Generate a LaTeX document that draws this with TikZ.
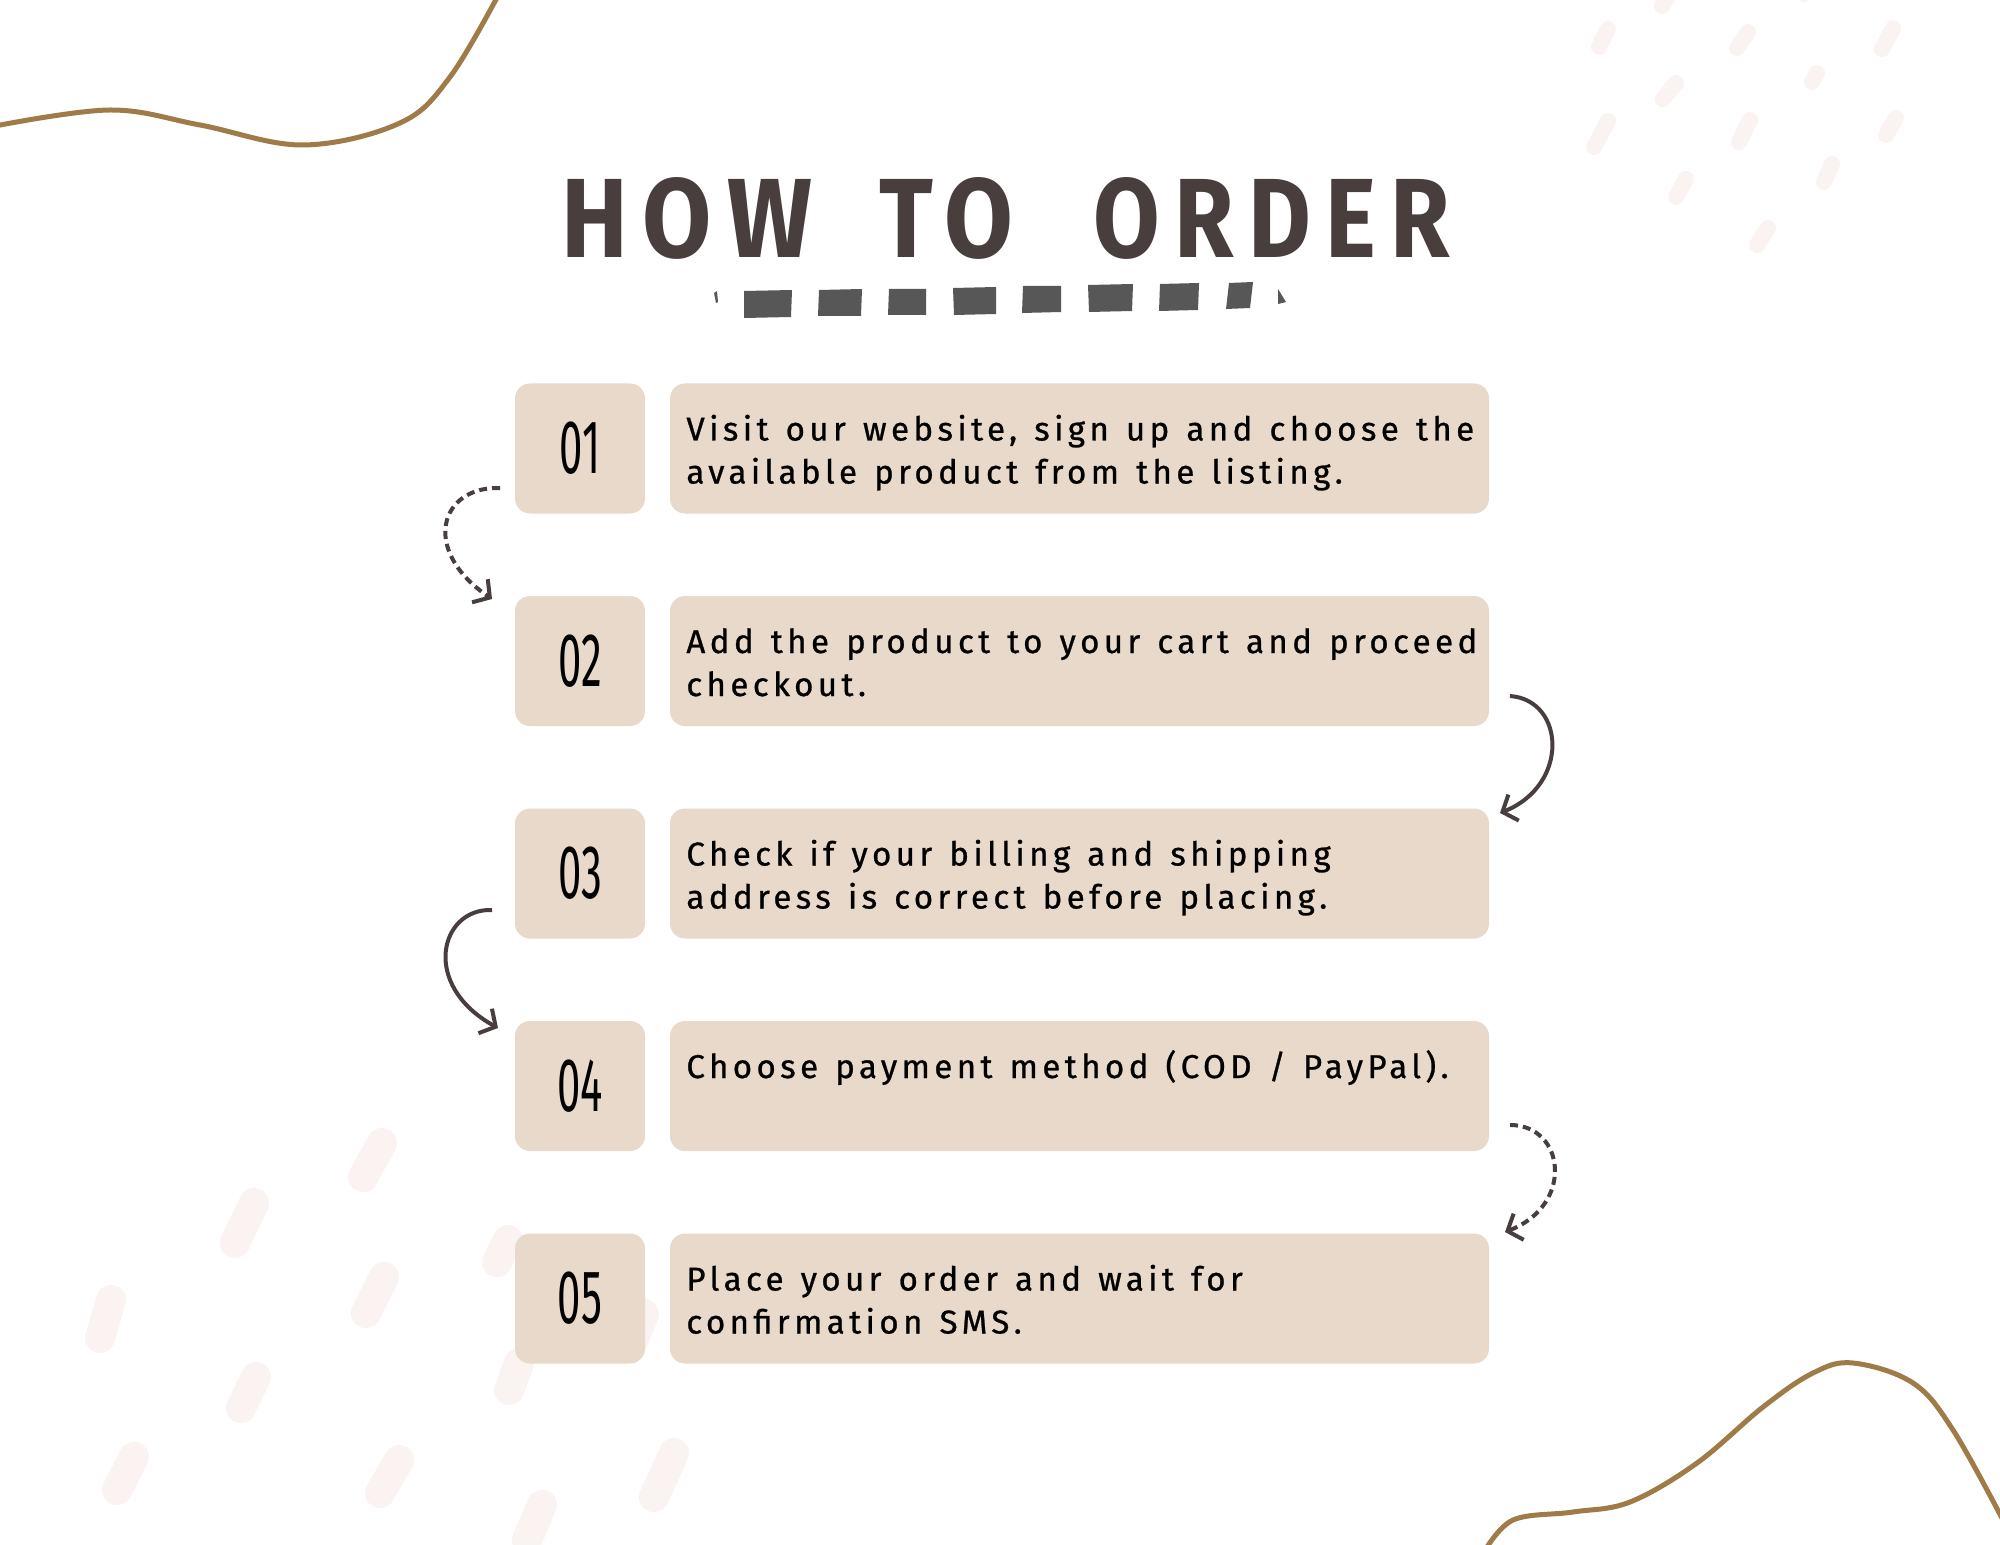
\documentclass[tikz,border=0pt]{standalone}
\usepackage{fontspec}
\usepackage{graphicx}
\setmainfont{Fira Sans}
\newfontfamily\stepfont[LetterSpace=13.5,WordSpace=1.3,FakeBold=0.8]{Fira Sans}
\newfontfamily\titlefont[LetterSpace=15]{Fira Sans}
\newcommand\numfont{\fontsize{38pt}{40pt}\selectfont}
\newcommand\twolines[2]{\vtop{\baselineskip=21.5pt\hbox{#1}\hbox{#2}}}
\usetikzlibrary{arrows.meta}
\definecolor{boxc}{HTML}{E8D9CB}
\definecolor{arrowc}{HTML}{483E3E}
\definecolor{titlec}{HTML}{483E3E}
\definecolor{wavec}{HTML}{9E7B47}
\definecolor{speckc}{HTML}{FAF3F2}
\definecolor{ulinec}{HTML}{575757}
\begin{document}
\begin{tikzpicture}[x=0.5pt,y=-0.5pt,
  numbox/.style={fill=boxc,rounded corners=7.5pt,minimum width=65pt,minimum height=65pt,inner sep=0pt,text=black,font=\numfont},
  textbox/.style={fill=boxc,rounded corners=7.5pt,minimum width=409.5pt,minimum height=65pt,inner sep=0pt},
  steptext/.style={anchor=base west,inner sep=0pt,text=black,font=\stepfont\fontsize{16.5pt}{21.5pt}\selectfont},
  titletext/.style={anchor=base,inner sep=0pt,text=titlec,font=\titlefont\bfseries\fontsize{58pt}{60pt}\selectfont},
  conn/.style={draw=arrowc,line width=2pt,-{Straight Barb[length=6pt,width=14pt,line width=2pt]}},
  dconn/.style={conn,dash pattern=on 4pt off 2.5pt},
  speck/.style={draw=speckc,line cap=round,line width=8pt},
  bigspeck/.style={draw=speckc,line cap=round,line width=15pt},
  wave/.style={draw=wavec,line width=2.5pt},
  uline/.style={fill=ulinec,draw=none}]
\useasboundingbox (0,0) rectangle (2000,1545);
\clip (0,0) rectangle (2000,1545);
\fill[white] (0,0) rectangle (2000,1545);

% background specks, top right
\foreach \a/\b/\c/\d in {1599/47/1608/29, 1737/48/1748/32, 1882/49/1893/28, 1812/82/1817/73,
  1663/99/1676/83, 1594/147/1608/121, 1739/142/1750/120, 1886/135/1896/118,
  1824/182/1832/164, 1676/197/1686/179, 1757/245/1768/228, 1662/6/1672/-10, 1804/-6/1812/-20}
  \draw[speck] (\a,\b) -- (\c,\d);
% background specks, bottom left
\foreach \a/\b/\c/\d in {363/1177/382/1143, 235/1243/254/1203, 100/1338/111/1300,
  366/1313/384/1277, 497/1262/508/1240, 241/1408/256/1377, 509/1390/519/1363,
  117/1490/134/1457, 380/1493/399/1460, 654/1497/674/1453, 527/1540/542/1505, 630/1348/644/1314}
  \draw[bigspeck] (\a,\b) -- (\c,\d);

% corner waves
\draw[wave] plot[smooth,tension=0.6] coordinates {(-5,126) (110,110) (200,125) (303,145) (400,123) (450,77) (500,-8)};
\draw[wave] plot[smooth,tension=0.6] coordinates {(1484,1552) (1513,1520) (1573,1512) (1630,1502) (1697,1463) (1763,1407) (1813,1373) (1853,1363) (1913,1383) (1953,1430) (2004,1522)};

% title
\node[titletext] (w1) at (686.5,258) {\resizebox{125.5pt}{40pt}{HOW}};
\node[titletext] (w2) at (946,258) {\resizebox{67pt}{40pt}{TO}};
\node[titletext] (w3) at (1271.5,258) {\resizebox{178.5pt}{40pt}{ORDER}};

% title underline dashes
\fill[uline] (714,293) -- (717,291) -- (718,302) -- (716,303) -- cycle;
\fill[uline] (744,291) -- (792,290) -- (791,317) -- (744,318) -- cycle;
\fill[uline] (819,290) -- (862,289) -- (861,316) -- (818,316) -- cycle;
\fill[uline] (889,289) -- (926,289) -- (926,315) -- (888,315) -- cycle;
\fill[uline] (953,288) -- (996,287) -- (996,314) -- (954,315) -- cycle;
\fill[uline] (1023,286) -- (1061,286) -- (1061,312) -- (1022,313) -- cycle;
\fill[uline] (1088,285) -- (1133,284) -- (1132,311) -- (1089,312) -- cycle;
\fill[uline] (1160,284) -- (1199,283) -- (1198,310) -- (1159,311) -- cycle;
\fill[uline] (1229,283) -- (1253,282) -- (1250,308) -- (1226,309) -- cycle;
\fill[uline] (1278,289) -- (1286,302) -- (1278,304) -- cycle;

% step boxes
\node[numbox] (n1) at (580,448.5) {\scalebox{0.55}[1]{01}};
\node[numbox] (n2) at (580,661) {\scalebox{0.55}[1]{02}};
\node[numbox] (n3) at (580,873.5) {\scalebox{0.55}[1]{03}};
\node[numbox] (n4) at (580,1086) {\scalebox{0.55}[1]{04}};
\node[numbox] (n5) at (580,1298.5) {\scalebox{0.55}[1]{05}};
\node[textbox] (t1) at (1079.5,448.5) {};
\node[textbox] (t2) at (1079.5,661) {};
\node[textbox] (t3) at (1079.5,873.5) {};
\node[textbox] (t4) at (1079.5,1086) {};
\node[textbox] (t5) at (1079.5,1298.5) {};

\node[steptext] (s1) at (686,440.5) {\twolines{Visit our website, sign up and choose the}{available product from the listing.}};
\node[steptext] (s2) at (686,653) {\twolines{Add the product to your cart and proceed}{checkout.}};
\node[steptext] (s3) at (686,865.5) {\twolines{Check if your billing and shipping}{address is correct before placing.}};
\node[steptext] (s4) at (686,1078) {Choose payment method (COD / PayPal).};
\node[steptext] (s5) at (686,1290.5) {\twolines{Place your order and wait for}{confirmation SMS.}};

% connectors
\coordinate (a1s) at (500,488);  \coordinate (a1e) at (492,599);
\coordinate (a2s) at (1510,696); \coordinate (a2e) at (1500,813);
\coordinate (a3s) at (492,910);  \coordinate (a3e) at (498,1028);
\coordinate (a4s) at (1510,1125);\coordinate (a4e) at (1505,1232);
\draw[dconn] (a1s) .. controls (440,486) and (420,550) .. (a1e);
\draw[conn]  (a2s) .. controls (1565,700) and (1570,785) .. (a2e);
\draw[conn]  (a3s) .. controls (440,908) and (420,985) .. (a3e);
\draw[dconn] (a4s) .. controls (1565,1125) and (1575,1205) .. (a4e);
\end{tikzpicture}
\end{document}
